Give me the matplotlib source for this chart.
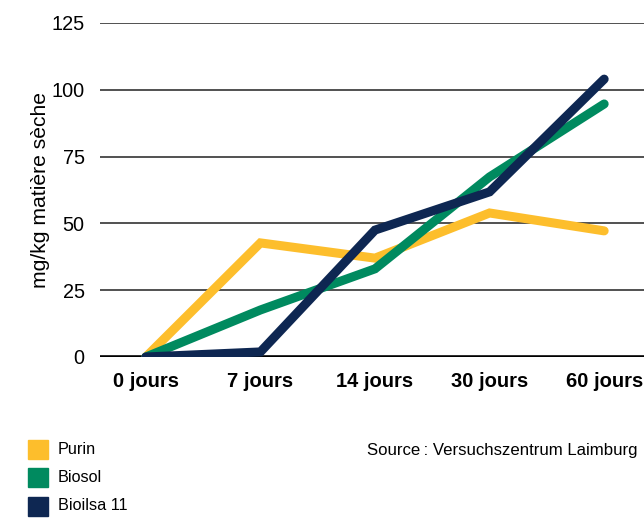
import matplotlib.pyplot as plt
from matplotlib.patches import Rectangle

plt.rcParams['font.family'] = ['Liberation Sans', 'DejaVu Sans']

# Données
jours = ['0 jours', '7 jours', '14 jours', '30 jours', '60 jours']
purin = [0, 42.7, 37, 53.9, 47.2]
biosol = [0, 17.6, 33, 67.4, 94.7]
bioilsa = [0, 1.9, 47.5, 61.8, 104]

series = [('Purin', purin, '#FDBE2C'),
          ('Biosol', biosol, '#008A5F'),
          ('Bioilsa 11', bioilsa, '#0E2752')]

W, H = 644, 518
fig = plt.figure(figsize=(W / 100, H / 100), dpi=100)
# l'axe déborde à droite comme dans l'original (image rognée)
ax = fig.add_axes([100 / W, 161 / H, 550 / W, 334 / H])

x = list(range(len(jours)))
for nom, vals, col in series:
    ax.plot(x, vals, color=col, lw=6.5, solid_capstyle='round',
            solid_joinstyle='miter', zorder=3)

ax.set_xlim(-0.4, 4.4)
ax.set_ylim(0, 125)
ax.set_yticks([0, 25, 50, 75, 100, 125])
ax.set_xticks(x)
ax.set_xticklabels(jours, fontsize=14.5, fontweight='bold')
ax.tick_params(axis='both', length=0)
ax.tick_params(axis='y', pad=11, labelsize=14.3)
ax.tick_params(axis='x', pad=11)

for y in [25, 50, 75, 100, 125]:
    ax.axhline(y, color='#333333', lw=1.2, zorder=1)
ax.axhline(0, color='black', lw=2.6, zorder=2)

for s in ax.spines.values():
    s.set_visible(False)

ax.set_ylabel('mg/kg matière sèche', fontsize=15.2)
ax.yaxis.set_label_coords(-50 / 550, 0.5)

# légende
for i, (nom, vals, col) in enumerate(series):
    yc = 449 + 28.5 * i
    fig.add_artist(Rectangle((28 / W, 1 - (yc + 9.5) / H), 20 / W, 19 / H,
                             transform=fig.transFigure, color=col))
    fig.text(58 / W, 1 - yc / H, nom, fontsize=11.7, va='center', ha='left')

fig.text(367 / W, 1 - 450 / H, 'Source\u2009: Versuchszentrum Laimburg',
         fontsize=12.1, va='center', ha='left')

fig.savefig('out.png', dpi=100)
